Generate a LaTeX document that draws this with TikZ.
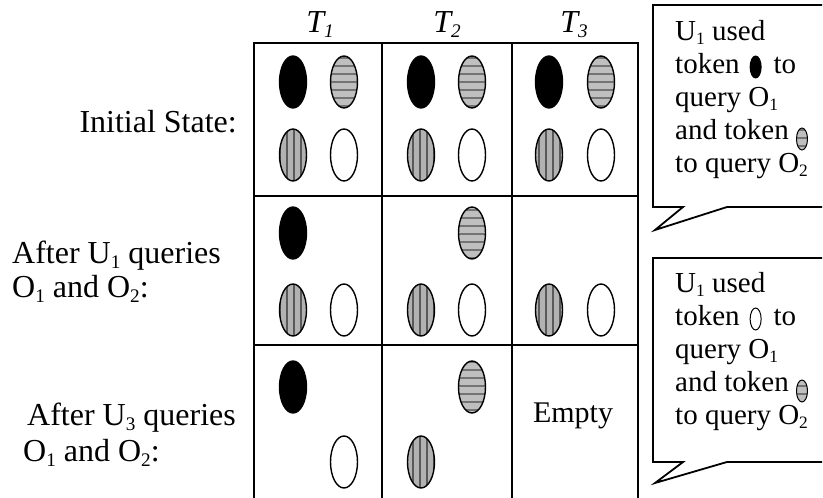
\documentclass[tikz,border=0pt]{standalone}
\usepackage{fontspec}
\setmainfont{Liberation Serif}
\usetikzlibrary{shapes.geometric, patterns.meta}

\tikzset{
  grid/.style={line width=1.8pt},
  tok/.style={ellipse, draw, line width=1.4pt, minimum width=27pt, minimum height=52pt, inner sep=0pt},
  tokblack/.style={tok, fill=black},
  tokh/.style={tok, preaction={fill=gray!50}, pattern={Lines[angle=0, distance=8pt, line width=1.8pt]}, pattern color=black!55},
  tokv/.style={tok, preaction={fill=gray!60}, pattern={Lines[angle=90, distance=7pt, line width=1.2pt]}, pattern color=black!65},
  tokwhite/.style={tok, fill=white},
  label/.style={font=\fontsize{32}{36}\selectfont, inner sep=0pt},
  colhead/.style={font=\fontsize{32}{34}\selectfont\itshape, inner sep=0pt},
  note/.style={font=\fontsize{29}{33}\selectfont, align=left, inner sep=0pt},
  callout/.style={line width=1.8pt}
}
% chỉ số dưới nhỏ
\newcommand{\sub}[1]{\raisebox{-0.3ex}{\scalebox{0.6}{#1}}}
% small token inside the callout text
\newcommand{\tokicon}[2]{\tikz[baseline=#2]\node[#1, minimum width=11pt, minimum height=22pt, line width=1pt]{};}

\begin{document}
\begin{tikzpicture}[x=1pt, y=1pt]
    \useasboundingbox (0,0) rectangle (823,498);

    % Khung bảng
    \draw[grid] (254,0) -- (254,455) -- (638,455) -- (638,0);
    \draw[grid] (382,0) -- (382,455);
    \draw[grid] (512,0) -- (512,455);
    \draw[grid] (254,302) -- (638,302);
    \draw[grid] (254,153) -- (638,153);

    % Tiêu đề cột
    \node[colhead, anchor=base] (h1) at (320,465) {T\sub{1}};
    \node[colhead, anchor=base] (h2) at (447,465) {T\sub{2}};
    \node[colhead, anchor=base] (h3) at (574,465) {T\sub{3}};

    % Nhãn các hàng
    \node[label, anchor=base east] (s0) at (237,365) {Initial State:};
    \node[label, anchor=base west] (s1a) at (12,234) {After U\sub{1} queries};
    \node[label, anchor=base west] (s1b) at (12,200) {O\sub{1} and O\sub{2}:};
    \node[label, anchor=base west] (s2a) at (27,72) {After U\sub{3} queries};
    \node[label, anchor=base west] (s2b) at (23,36) {O\sub{1} and O\sub{2}:};

    % Hàng 1: trạng thái ban đầu
    \node[tokblack] (a11) at (293,416) {};
    \node[tokh]     (a12) at (344,416) {};
    \node[tokv]     (a13) at (293,343) {};
    \node[tokwhite] (a14) at (344,343) {};
    \node[tokblack] (a21) at (421,416) {};
    \node[tokh]     (a22) at (472,416) {};
    \node[tokv]     (a23) at (421,343) {};
    \node[tokwhite] (a24) at (472,343) {};
    \node[tokblack] (a31) at (549,416) {};
    \node[tokh]     (a32) at (601,416) {};
    \node[tokv]     (a33) at (549,343) {};
    \node[tokwhite] (a34) at (601,343) {};

    % Hàng 2: sau khi U1 truy vấn
    \node[tokblack] (b11) at (293,265) {};
    \node[tokv]     (b13) at (293,188) {};
    \node[tokwhite] (b14) at (344,188) {};
    \node[tokh]     (b22) at (472,265) {};
    \node[tokv]     (b23) at (421,188) {};
    \node[tokwhite] (b24) at (472,188) {};
    \node[tokv]     (b33) at (549,188) {};
    \node[tokwhite] (b34) at (601,188) {};

    % Hàng 3: sau khi U3 truy vấn
    \node[tokblack] (c11) at (293,111) {};
    \node[tokwhite] (c14) at (344,36) {};
    \node[tokh]     (c22) at (472,111) {};
    \node[tokv]     (c23) at (421,36) {};
    \node[font=\fontsize{30}{34}\selectfont, anchor=base, inner sep=0pt] (empty) at (573,75) {Empty};

    % Hộp chú thích
    \draw[callout] (822,493) -- (653,493) -- (653,291) -- (683,291) -- (655,268) -- (727,291) -- (822,291);
    \node[note, anchor=base west] (n1) at (675,325)
        {U\sub{1} used\\token\hspace{10pt}\tokicon{tokblack}{-7pt}\hspace{12pt}to\\query O\sub{1}\\and token \tokicon{tokh}{-1pt}\\to query O\sub{2}};

    \draw[callout] (822,240) -- (653,240) -- (653,36) -- (683,36) -- (655,15) -- (727,36) -- (822,36);
    \node[note, anchor=base west] (n2) at (675,73)
        {U\sub{1} used\\token\hspace{10pt}\tokicon{tokwhite}{-7pt}\hspace{12pt}to\\query O\sub{1}\\and token \tokicon{tokh}{-1pt}\\to query O\sub{2}};

\end{tikzpicture}
\end{document}
